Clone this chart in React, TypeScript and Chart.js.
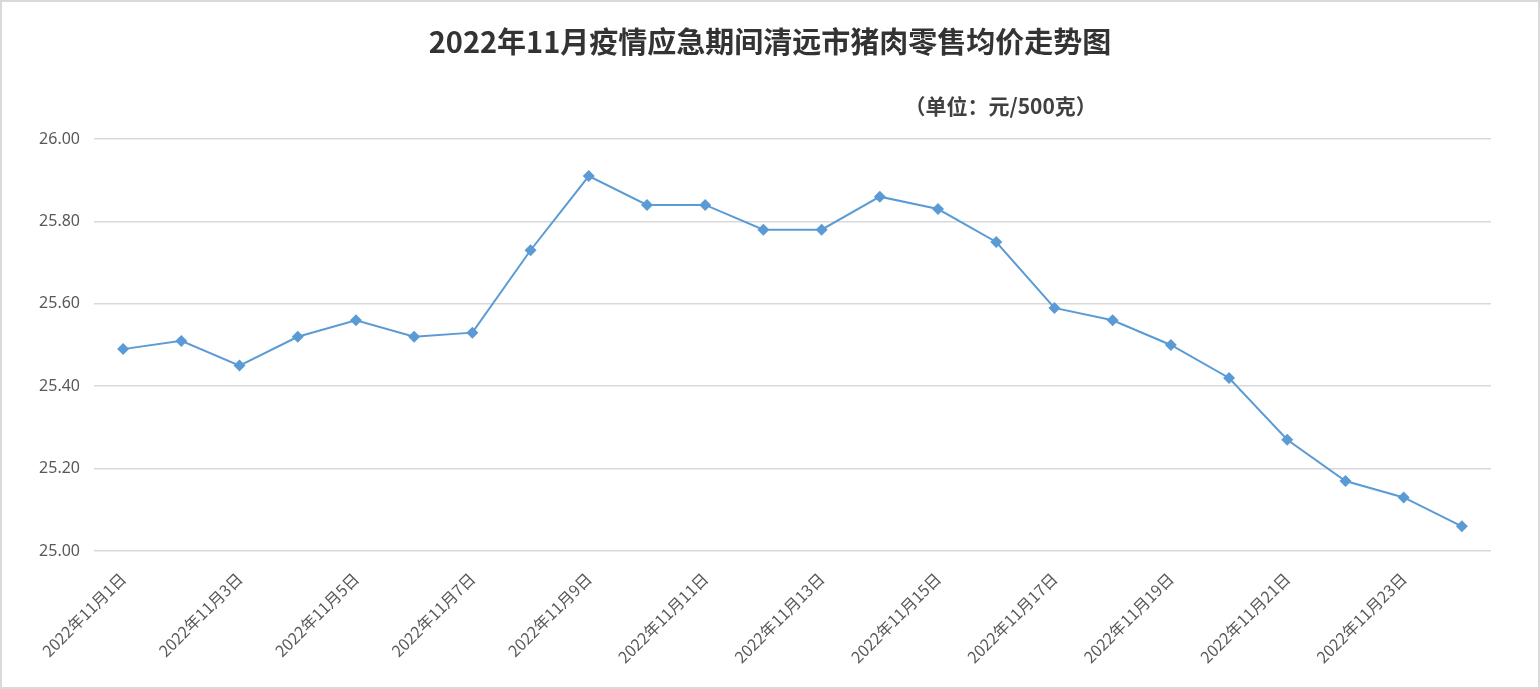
import React, { useEffect, useRef } from "react";
import { Chart, registerables } from "chart.js";

Chart.register(...registerables);

const TITLE = "2022年11月疫情应急期间清远市猪肉零售均价走势图";
const UNIT = "（单位：元/500克）";

const days: string[] = [
  "2022年11月1日", "2022年11月2日", "2022年11月3日", "2022年11月4日",
  "2022年11月5日", "2022年11月6日", "2022年11月7日", "2022年11月8日",
  "2022年11月9日", "2022年11月10日", "2022年11月11日", "2022年11月12日",
  "2022年11月13日", "2022年11月14日", "2022年11月15日", "2022年11月16日",
  "2022年11月17日", "2022年11月18日", "2022年11月19日", "2022年11月20日",
  "2022年11月21日", "2022年11月22日", "2022年11月23日", "2022年11月24日",
];

const prices: number[] = [
  25.49, 25.51, 25.45, 25.52, 25.56, 25.52, 25.53, 25.73,
  25.91, 25.84, 25.84, 25.78, 25.78, 25.86, 25.83, 25.75,
  25.59, 25.56, 25.50, 25.42, 25.27, 25.17, 25.13, 25.06,
];

const yMin = 25;
const yMax = 26;
const yStep = 0.2;

const textPlugin = {
  id: "textPlugin",
  afterDraw(chart: any) {
    const ctx = chart.ctx;
    const { width, height } = chart;
    ctx.save();
    ctx.strokeStyle = "#d9d9d9";
    ctx.lineWidth = 2;
    ctx.strokeRect(1, 1, width - 2, height - 2);
    ctx.fillStyle = "#333333";
    ctx.textAlign = "center";
    ctx.textBaseline = "middle";
    ctx.font = "bold 29px 'Noto Sans CJK SC', 'Noto Sans', sans-serif";
    ctx.fillText(TITLE, width / 2, 42);
    ctx.font = "bold 21px 'Noto Sans CJK SC', 'Noto Sans', sans-serif";
    ctx.fillStyle = "#404040";
    const area = chart.chartArea;
    ctx.fillText(UNIT, area.left + (area.right - area.left) * 0.649, 106);
    ctx.restore();
  },
};

export default function App() {
  const ref = useRef<HTMLCanvasElement | null>(null);

  useEffect(() => {
    document.body.style.margin = "0";
    if (!ref.current) return;
    const chart = new Chart(ref.current, {
      type: "line",
      data: {
        labels: days,
        datasets: [
          {
            data: prices,
            borderColor: "#5b9bd5",
            backgroundColor: "#5b9bd5",
            borderWidth: 2,
            pointStyle: "rectRot",
            pointRadius: 6,
            pointBorderWidth: 0,
            pointBackgroundColor: "#5b9bd5",
            tension: 0,
          },
        ],
      },
      options: {
        animation: false,
        responsive: false,
        maintainAspectRatio: false,
        devicePixelRatio: 1,
        layout: { padding: { top: 139, right: 49, bottom: 0, left: 0 } },
        plugins: {
          legend: { display: false },
          title: { display: false },
          tooltip: { enabled: false },
        },
        scales: {
          x: {
            offset: true,
            grid: { display: false, drawTicks: false },
            border: { display: false },
            ticks: {
              autoSkip: false,
              maxRotation: 45,
              minRotation: 45,
              padding: 18,
              color: "#595959",
              font: { size: 16, family: "'Noto Sans CJK SC', 'Noto Sans', sans-serif" },
              callback: (_v: any, i: number) => (i % 2 === 0 ? days[i] : ""),
            },
            afterFit: (s: any) => {
              s.height = 138;
            },
          },
          y: {
            min: yMin,
            max: yMax,
            grid: { color: "#d9d9d9", lineWidth: 1.5, drawTicks: false },
            border: { display: false },
            ticks: {
              stepSize: yStep,
              padding: 14,
              color: "#595959",
              font: { size: 16, family: "'Noto Sans', sans-serif" },
              callback: (v: any) => Number(v).toFixed(2),
            },
            afterFit: (s: any) => {
              s.width = 94;
            },
          },
        },
      },
      plugins: [textPlugin],
    } as any);
    return () => chart.destroy();
  }, []);

  return (
    <div style={{ width: 1540, height: 689 }}>
      <canvas ref={ref} width={1540} height={689} style={{ display: "block" }} />
    </div>
  );
}
